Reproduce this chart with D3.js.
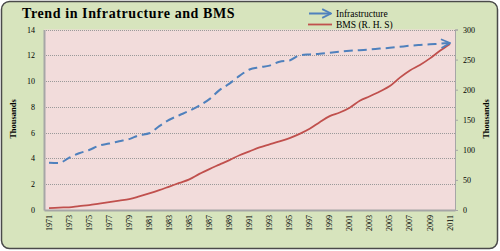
<!DOCTYPE html>
<html>
<head>
<meta charset="utf-8">
<script src="https://cdn.jsdelivr.net/npm/d3@7"></script>
<style>
  body { margin: 0; background: #fff; }
  svg { display: block; }
  text { font-family: "Liberation Serif", "Times New Roman", serif; fill: #000; }
</style>
</head>
<body>
<div id="chart"></div>
<script>
var years = d3.range(1971, 2012).map(String);
var infrastructure = [3.67, 3.65, 4.05, 4.4, 4.65, 5.0, 5.15, 5.33, 5.5, 5.8,
  5.95, 6.5, 7.0, 7.35, 7.7, 8.1, 8.6, 9.3, 9.8, 10.4,
  10.9, 11.07, 11.2, 11.5, 11.6, 12.0, 12.07, 12.12, 12.2, 12.28,
  12.35, 12.4, 12.45, 12.52, 12.58, 12.66, 12.74, 12.8, 12.85, 12.9, 12.95];
var bms = [3, 4, 4.5, 6.5, 8, 10.5, 13, 15.5, 18, 22.5,
  27.5, 33, 39, 45, 51, 60, 68, 75.5, 83, 91,
  97.5, 104, 109, 114, 119.5, 126.5, 135, 146, 156, 162,
  170, 181.5, 189, 197, 206, 220, 232, 241, 252, 264.7, 276];
var leftTicks = [0, 2, 4, 6, 8, 10, 12, 14];
var rightTicks = [0, 50, 100, 150, 200, 250, 300];
var xLabels = years.filter(function(d, i) { return i % 2 == 0; });

var W = 500, H = 251;
var margin = {top: 29.5, right: 45, bottom: 41, left: 44};

var svg = d3.select("#chart").append("svg")
    .attr("width", W)
    .attr("height", H);

svg.append("defs").append("marker")
    .attr("id", "arrow")
    .attr("viewBox", "0 0 10 10")
    .attr("refX", 9).attr("refY", 5)
    .attr("markerWidth", 5.5).attr("markerHeight", 5.5)
    .attr("markerUnits", "strokeWidth")
    .attr("orient", "auto")
    .append("path")
    .attr("d", "M1,1 L9,5 L1,9")
    .attr("fill", "none")
    .attr("stroke", "#4f81bd")
    .attr("stroke-width", 1.6);

// chart background
svg.append("rect")
    .attr("x", 1.5).attr("y", 1.5)
    .attr("width", 496).attr("height", 247)
    .attr("rx", 8)
    .attr("fill", "#d7e4bd")
    .attr("stroke", "#4a4a4a")
    .attr("stroke-width", 1.5);

var x = d3.scaleBand().domain(years).range([margin.left, W - margin.right]);
var yL = d3.scaleLinear().domain([0, 14]).range([H - margin.bottom, margin.top]);
var yR = d3.scaleLinear().domain([0, 300]).range([H - margin.bottom, margin.top]);
function cx(d) { return x(d) + x.bandwidth() / 2; }

// plot area
svg.append("rect")
    .attr("x", margin.left).attr("y", margin.top)
    .attr("width", W - margin.left - margin.right)
    .attr("height", H - margin.top - margin.bottom)
    .attr("fill", "#f2dcdb");

// gridlines
svg.append("g").selectAll("line")
    .data(leftTicks.slice(1))
    .enter().append("line")
    .attr("x1", margin.left).attr("x2", W - margin.right)
    .attr("y1", function(d) { return Math.round(yL(d)) + 0.5; })
    .attr("y2", function(d) { return Math.round(yL(d)) + 0.5; })
    .attr("stroke", "#9a9a9a")
    .attr("stroke-dasharray", "1,1");

// axes
var axL = svg.append("g")
    .attr("transform", "translate(" + margin.left + ",0)")
    .call(d3.axisLeft(yL).tickValues(leftTicks).tickSize(0).tickPadding(9));
var axR = svg.append("g")
    .attr("transform", "translate(" + (W - margin.right) + ",0)")
    .call(d3.axisRight(yR).tickValues(rightTicks).tickSize(3).tickPadding(5));
var axB = svg.append("g")
    .attr("transform", "translate(0," + (H - margin.bottom) + ")")
    .call(d3.axisBottom(x).tickValues(xLabels).tickSize(0));

axL.select(".domain").attr("stroke", "#a6a6a6").attr("stroke-width", 2);
axR.select(".domain").attr("stroke", "#a6a6a6").attr("stroke-width", 1);
axR.selectAll(".tick line").attr("stroke", "#a6a6a6");
axB.select(".domain").attr("stroke", "#a6a6a6").attr("stroke-width", 2);
svg.selectAll(".tick text")
    .attr("font-family", "Liberation Serif, serif")
    .attr("font-size", 8);
axB.selectAll(".tick text")
    .attr("transform", "rotate(-90)")
    .attr("text-anchor", "end")
    .attr("x", -5).attr("y", 0).attr("dy", "0.32em")
    .attr("font-size", 8);

// series
var lineL = d3.line()
    .x(function(d, i) { return cx(years[i]); })
    .y(function(d) { return yL(d); })
    .curve(d3.curveMonotoneX);
var lineR = d3.line()
    .x(function(d, i) { return cx(years[i]); })
    .y(function(d) { return yR(d); })
    .curve(d3.curveMonotoneX);

svg.append("path")
    .datum(bms)
    .attr("d", lineR)
    .attr("fill", "none")
    .attr("stroke", "#c0504d")
    .attr("stroke-width", 1.8);

svg.append("path")
    .datum(infrastructure)
    .attr("d", lineL)
    .attr("fill", "none")
    .attr("stroke", "#4f81bd")
    .attr("stroke-width", 2)
    .attr("stroke-dasharray", "9,5")
    .attr("marker-end", "url(#arrow)");

// title
svg.append("text")
    .attr("x", 22).attr("y", 18)
    .attr("font-size", 14)
    .attr("font-weight", "bold")
    .attr("letter-spacing", 0.6)
    .text("Trend in Infratructure and BMS");

// legend
var lg = svg.append("g");
lg.append("line")
    .attr("x1", 309).attr("x2", 331)
    .attr("y1", 13.5).attr("y2", 13.5)
    .attr("stroke", "#4f81bd").attr("stroke-width", 2)
    .attr("marker-end", "url(#arrow)");
lg.append("text").attr("x", 336).attr("y", 17).attr("font-size", 9.5).text("Infrastructure");
lg.append("line")
    .attr("x1", 308).attr("x2", 332)
    .attr("y1", 24.5).attr("y2", 24.5)
    .attr("stroke", "#c0504d").attr("stroke-width", 1.8);
lg.append("text").attr("x", 336).attr("y", 28).attr("font-size", 9.5).text("BMS (R. H. S)");

// axis titles
svg.append("text")
    .attr("transform", "translate(16,119) rotate(-90)")
    .attr("text-anchor", "middle")
    .attr("font-size", 8.5).attr("font-weight", "bold")
    .text("Thousands");
svg.append("text")
    .attr("transform", "translate(489,119) rotate(-90)")
    .attr("text-anchor", "middle")
    .attr("font-size", 8.5).attr("font-weight", "bold")
    .text("Thousands");
</script>
</body>
</html>
